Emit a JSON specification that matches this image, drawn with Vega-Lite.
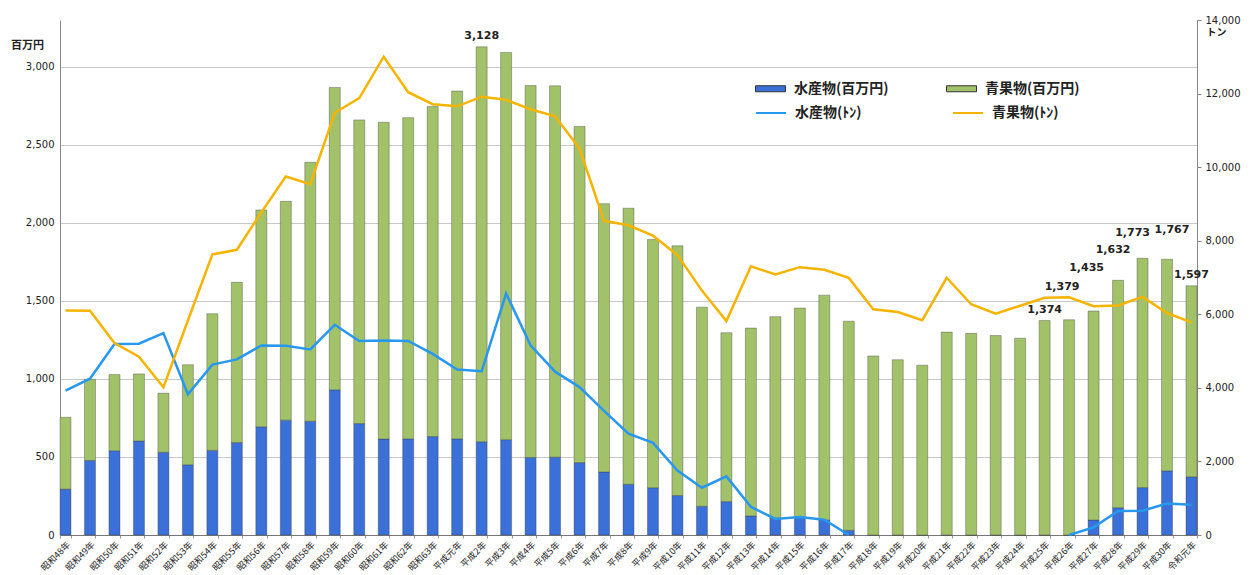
{
  "$schema": "https://vega.github.io/schema/vega-lite/v6.json",
  "width": 1137,
  "height": 515,
  "autosize": "none",
  "padding": {"left": 60, "top": 20, "right": 59, "bottom": 40},
  "background": "white",
  "config": {"view": {"stroke": null}, "font": "Noto Sans CJK JP"},
  "data": {"values": [
    {"年": "昭和48年", "水産物(百万円)": 294, "青果物(百万円)": 460, "水産物(ﾄﾝ)": 3925, "青果物(ﾄﾝ)": 6104, "ラベル": null},
    {"年": "昭和49年", "水産物(百万円)": 478, "青果物(百万円)": 520, "水産物(ﾄﾝ)": 4249, "青果物(ﾄﾝ)": 6094, "ラベル": null},
    {"年": "昭和50年", "水産物(百万円)": 540, "青果物(百万円)": 488, "水産物(ﾄﾝ)": 5192, "青果物(ﾄﾝ)": 5219, "ラベル": null},
    {"年": "昭和51年", "水産物(百万円)": 603, "青果物(百万円)": 429, "水産物(ﾄﾝ)": 5200, "青果物(ﾄﾝ)": 4846, "ラベル": null},
    {"年": "昭和52年", "水産物(百万円)": 530, "青果物(百万円)": 379, "水産物(ﾄﾝ)": 5489, "青果物(ﾄﾝ)": 4018, "ラベル": null},
    {"年": "昭和53年", "水産物(百万円)": 450, "青果物(百万円)": 641, "水産物(ﾄﾝ)": 3824, "青果物(ﾄﾝ)": 5832, "ラベル": null},
    {"年": "昭和54年", "水産物(百万円)": 542, "青果物(百万円)": 876, "水産物(ﾄﾝ)": 4631, "青果物(ﾄﾝ)": 7627, "ラベル": null},
    {"年": "昭和55年", "水産物(百万円)": 593, "青果物(百万円)": 1026, "水産物(ﾄﾝ)": 4775, "青果物(ﾄﾝ)": 7753, "ラベル": null},
    {"年": "昭和56年", "水産物(百万円)": 693, "青果物(百万円)": 1390, "水産物(ﾄﾝ)": 5154, "青果物(ﾄﾝ)": 8769, "ラベル": null},
    {"年": "昭和57年", "水産物(百万円)": 736, "青果物(百万円)": 1402, "水産物(ﾄﾝ)": 5146, "青果物(ﾄﾝ)": 9747, "ラベル": null},
    {"年": "昭和58年", "水産物(百万円)": 729, "青果物(百万円)": 1659, "水産物(ﾄﾝ)": 5045, "青果物(ﾄﾝ)": 9537, "ラベル": null},
    {"年": "昭和59年", "水産物(百万円)": 930, "青果物(百万円)": 1938, "水産物(ﾄﾝ)": 5715, "青果物(ﾄﾝ)": 11479, "ラベル": null},
    {"年": "昭和60年", "水産物(百万円)": 714, "青果物(百万円)": 1946, "水産物(ﾄﾝ)": 5276, "青果物(ﾄﾝ)": 11879, "ラベル": null},
    {"年": "昭和61年", "水産物(百万円)": 615, "青果物(百万円)": 2030, "水産物(ﾄﾝ)": 5285, "青果物(ﾄﾝ)": 13002, "ラベル": null},
    {"年": "昭和62年", "水産物(百万円)": 616, "青果物(百万円)": 2058, "水産物(ﾄﾝ)": 5274, "青果物(ﾄﾝ)": 12037, "ラベル": null},
    {"年": "昭和63年", "水産物(百万円)": 631, "青果物(百万円)": 2115, "水産物(ﾄﾝ)": 4925, "青果物(ﾄﾝ)": 11711, "ラベル": null},
    {"年": "平成元年", "水産物(百万円)": 616, "青果物(百万円)": 2229, "水産物(ﾄﾝ)": 4497, "青果物(ﾄﾝ)": 11653, "ラベル": null},
    {"年": "平成2年", "水産物(百万円)": 598, "青果物(百万円)": 2530, "水産物(ﾄﾝ)": 4451, "青果物(ﾄﾝ)": 11915, "ラベル": 3128},
    {"年": "平成3年", "水産物(百万円)": 611, "青果物(百万円)": 2481, "水産物(ﾄﾝ)": 6565, "青果物(ﾄﾝ)": 11830, "ラベル": null},
    {"年": "平成4年", "水産物(百万円)": 497, "青果物(百万円)": 2383, "水産物(ﾄﾝ)": 5157, "青果物(ﾄﾝ)": 11574, "ラベル": null},
    {"年": "平成5年", "水産物(百万円)": 499, "青果物(百万円)": 2379, "水産物(ﾄﾝ)": 4440, "青果物(ﾄﾝ)": 11384, "ラベル": null},
    {"年": "平成6年", "水産物(百万円)": 464, "青果物(百万円)": 2154, "水産物(ﾄﾝ)": 4021, "青果物(ﾄﾝ)": 10509, "ラベル": null},
    {"年": "平成7年", "水産物(百万円)": 404, "青果物(百万円)": 1719, "水産物(ﾄﾝ)": 3373, "青果物(ﾄﾝ)": 8540, "ラベル": null},
    {"年": "平成8年", "水産物(百万円)": 325, "青果物(百万円)": 1769, "水産物(ﾄﾝ)": 2754, "青果物(ﾄﾝ)": 8420, "ラベル": null},
    {"年": "平成9年", "水産物(百万円)": 303, "青果物(百万円)": 1590, "水産物(ﾄﾝ)": 2506, "青果物(ﾄﾝ)": 8137, "ラベル": null},
    {"年": "平成10年", "水産物(百万円)": 253, "青果物(百万円)": 1600, "水産物(ﾄﾝ)": 1752, "青果物(ﾄﾝ)": 7608, "ラベル": null},
    {"年": "平成11年", "水産物(百万円)": 184, "青果物(百万円)": 1276, "水産物(ﾄﾝ)": 1286, "青果物(ﾄﾝ)": 6644, "ラベル": null},
    {"年": "平成12年", "水産物(百万円)": 214, "青果物(百万円)": 1082, "水産物(ﾄﾝ)": 1594, "青果物(ﾄﾝ)": 5816, "ラベル": null},
    {"年": "平成13年", "水産物(百万円)": 122, "青果物(百万円)": 1204, "水産物(ﾄﾝ)": 765, "青果物(ﾄﾝ)": 7303, "ラベル": null},
    {"年": "平成14年", "水産物(百万円)": 108, "青果物(百万円)": 1291, "水産物(ﾄﾝ)": 436, "青果物(ﾄﾝ)": 7082, "ラベル": null},
    {"年": "平成15年", "水産物(百万円)": 117, "青果物(百万円)": 1337, "水産物(ﾄﾝ)": 490, "青果物(ﾄﾝ)": 7281, "ラベル": null},
    {"年": "平成16年", "水産物(百万円)": 97, "青果物(百万円)": 1440, "水産物(ﾄﾝ)": 414, "青果物(ﾄﾝ)": 7208, "ラベル": null},
    {"年": "平成17年", "水産物(百万円)": 30, "青果物(百万円)": 1340, "水産物(ﾄﾝ)": 0, "青果物(ﾄﾝ)": 6990, "ラベル": null},
    {"年": "平成18年", "水産物(百万円)": 0, "青果物(百万円)": 1147, "水産物(ﾄﾝ)": null, "青果物(ﾄﾝ)": 6134, "ラベル": null},
    {"年": "平成19年", "水産物(百万円)": 0, "青果物(百万円)": 1123, "水産物(ﾄﾝ)": null, "青果物(ﾄﾝ)": 6061, "ラベル": null},
    {"年": "平成20年", "水産物(百万円)": 0, "青果物(百万円)": 1088, "水産物(ﾄﾝ)": null, "青果物(ﾄﾝ)": 5840, "ラベル": null},
    {"年": "平成21年", "水産物(百万円)": 0, "青果物(百万円)": 1300, "水産物(ﾄﾝ)": null, "青果物(ﾄﾝ)": 6993, "ラベル": null},
    {"年": "平成22年", "水産物(百万円)": 0, "青果物(百万円)": 1292, "水産物(ﾄﾝ)": null, "青果物(ﾄﾝ)": 6273, "ラベル": null},
    {"年": "平成23年", "水産物(百万円)": 0, "青果物(百万円)": 1278, "水産物(ﾄﾝ)": null, "青果物(ﾄﾝ)": 6017, "ラベル": null},
    {"年": "平成24年", "水産物(百万円)": 0, "青果物(百万円)": 1261, "水産物(ﾄﾝ)": null, "青果物(ﾄﾝ)": 6233, "ラベル": null},
    {"年": "平成25年", "水産物(百万円)": 0, "青果物(百万円)": 1374, "水産物(ﾄﾝ)": null, "青果物(ﾄﾝ)": 6448, "ラベル": 1374},
    {"年": "平成26年", "水産物(百万円)": 0, "青果物(百万円)": 1379, "水産物(ﾄﾝ)": 0, "青果物(ﾄﾝ)": 6464, "ラベル": 1379},
    {"年": "平成27年", "水産物(百万円)": 96, "青果物(百万円)": 1339, "水産物(ﾄﾝ)": 207, "青果物(ﾄﾝ)": 6219, "ラベル": 1435},
    {"年": "平成28年", "水産物(百万円)": 175, "青果物(百万円)": 1457, "水産物(ﾄﾝ)": 654, "青果物(ﾄﾝ)": 6238, "ラベル": 1632},
    {"年": "平成29年", "水産物(百万円)": 304, "青果物(百万円)": 1469, "水産物(ﾄﾝ)": 659, "青果物(ﾄﾝ)": 6472, "ラベル": 1773},
    {"年": "平成30年", "水産物(百万円)": 411, "青果物(百万円)": 1356, "水産物(ﾄﾝ)": 858, "青果物(ﾄﾝ)": 6034, "ラベル": 1767},
    {"年": "令和元年", "水産物(百万円)": 373, "青果物(百万円)": 1224, "水産物(ﾄﾝ)": 820, "青果物(ﾄﾝ)": 5778, "ラベル": 1597}
  ]},
  "encoding": {
    "x": {
      "field": "年", "type": "ordinal", "sort": null,
      "scale": {"paddingInner": 0.55, "paddingOuter": 0},
      "axis": {
        "title": null, "labelAngle": -45, "labelFont": "Noto Sans CJK JP", "labelFontSize": 9,
        "labelColor": "#222", "labelPadding": 2, "domainColor": "#777", "tickColor": "#999",
        "tickSize": 3, "tickBand": "extent"
      }
    }
  },
  "layer": [
    {
      "layer": [
        {
          "transform": [{"fold": ["水産物(百万円)", "青果物(百万円)"], "as": ["系列", "金額"]}],
          "mark": {"type": "bar", "stroke": "#333", "strokeOpacity": 0.35, "strokeWidth": 1},
          "encoding": {
            "y": {
              "field": "金額", "type": "quantitative", "stack": "zero",
              "scale": {"domain": [0, 3300], "nice": false},
              "axis": {
                "orient": "left", "values": [0, 500, 1000, 1500, 2000, 2500, 3000], "format": ",.0f",
                "labelFont": "DejaVu Sans", "labelFontSize": 10, "labelColor": "#222",
                "grid": true, "gridColor": "#c8c8c8", "domainColor": "#888", "ticks": false, "labelPadding": 6,
                "title": "百万円", "titleAngle": 0, "titleX": -33, "titleY": 25, "titleAlign": "center",
                "titleBaseline": "middle", "titleFont": "Noto Sans CJK JP", "titleFontSize": 11,
                "titleFontWeight": "bold", "titleColor": "#222"
              }
            },
            "fill": {
              "field": "系列", "type": "nominal",
              "scale": {"domain": ["水産物(百万円)", "青果物(百万円)"], "range": ["#3b70d8", "#a2c26a"]},
              "legend": {
                "orient": "none", "legendX": 695, "legendY": 53, "direction": "horizontal", "title": null,
                "symbolType": "M-1,-0.2H1V0.2H-1Z", "symbolSize": 900, "symbolStrokeWidth": 1,
                "labelFont": "Noto Sans CJK JP", "labelFontSize": 14, "labelFontWeight": "bold",
                "labelColor": "#222", "labelOffset": 8, "columnPadding": 55, "labelLimit": 300
              }
            },
            "order": {"field": "系列", "sort": "ascending"}
          }
        },
        {
          "transform": [{"filter": {"field": "年", "oneOf": ["平成2年", "平成25年", "令和元年"]}}],
          "mark": {"type": "text", "dy": -11, "font": "DejaVu Sans", "fontSize": 11, "fontWeight": "bold", "color": "#222"},
          "encoding": {
            "y": {"field": "ラベル", "type": "quantitative"},
            "text": {"field": "ラベル", "type": "quantitative", "format": ",.0f"}
          }
        },
        {
          "transform": [{"filter": {"field": "年", "oneOf": ["平成26年"]}}],
          "mark": {"type": "text", "dy": -33, "dx": -7, "font": "DejaVu Sans", "fontSize": 11, "fontWeight": "bold", "color": "#222"},
          "encoding": {
            "y": {"field": "ラベル", "type": "quantitative"},
            "text": {"field": "ラベル", "type": "quantitative", "format": ",.0f"}
          }
        },
        {
          "transform": [{"filter": {"field": "年", "oneOf": ["平成27年"]}}],
          "mark": {"type": "text", "dy": -43, "dx": -7, "font": "DejaVu Sans", "fontSize": 11, "fontWeight": "bold", "color": "#222"},
          "encoding": {
            "y": {"field": "ラベル", "type": "quantitative"},
            "text": {"field": "ラベル", "type": "quantitative", "format": ",.0f"}
          }
        },
        {
          "transform": [{"filter": {"field": "年", "oneOf": ["平成28年"]}}],
          "mark": {"type": "text", "dy": -30, "dx": -5, "font": "DejaVu Sans", "fontSize": 11, "fontWeight": "bold", "color": "#222"},
          "encoding": {
            "y": {"field": "ラベル", "type": "quantitative"},
            "text": {"field": "ラベル", "type": "quantitative", "format": ",.0f"}
          }
        },
        {
          "transform": [{"filter": {"field": "年", "oneOf": ["平成29年"]}}],
          "mark": {"type": "text", "dy": -25, "dx": -10, "font": "DejaVu Sans", "fontSize": 11, "fontWeight": "bold", "color": "#222"},
          "encoding": {
            "y": {"field": "ラベル", "type": "quantitative"},
            "text": {"field": "ラベル", "type": "quantitative", "format": ",.0f"}
          }
        },
        {
          "transform": [{"filter": {"field": "年", "oneOf": ["平成30年"]}}],
          "mark": {"type": "text", "dy": -29, "dx": 5, "font": "DejaVu Sans", "fontSize": 11, "fontWeight": "bold", "color": "#222"},
          "encoding": {
            "y": {"field": "ラベル", "type": "quantitative"},
            "text": {"field": "ラベル", "type": "quantitative", "format": ",.0f"}
          }
        }
      ]
    },
    {
      "transform": [{"fold": ["水産物(ﾄﾝ)", "青果物(ﾄﾝ)"], "as": ["系列2", "トン数"]}],
      "mark": {"type": "line", "strokeWidth": 2.5, "invalid": "break-paths-show-domains"},
      "encoding": {
        "y": {
          "field": "トン数", "type": "quantitative",
          "scale": {"domain": [0, 14000], "nice": false},
          "axis": {
            "orient": "right", "values": [0, 2000, 4000, 6000, 8000, 10000, 12000, 14000], "format": ",.0f",
            "labelFont": "DejaVu Sans", "labelFontSize": 10, "labelColor": "#222",
            "grid": false, "domainColor": "#888", "tickColor": "#888", "tickSize": 4, "labelPadding": 4,
            "title": "トン", "titleAngle": 0, "titleX": 9, "titleY": 12, "titleAlign": "left",
            "titleBaseline": "middle", "titleFont": "Noto Sans CJK JP", "titleFontSize": 10,
            "titleFontWeight": "bold", "titleColor": "#222"
          }
        },
        "stroke": {
          "field": "系列2", "type": "nominal",
          "scale": {"domain": ["水産物(ﾄﾝ)", "青果物(ﾄﾝ)"], "range": ["#2897ee", "#f5b400"]},
          "legend": {
            "orient": "none", "legendX": 695, "legendY": 77, "direction": "horizontal", "title": null,
            "symbolType": "stroke", "symbolSize": 900, "symbolStrokeWidth": 2,
            "labelFont": "Noto Sans CJK JP", "labelFontSize": 14, "labelFontWeight": "bold",
            "labelColor": "#222", "labelOffset": 8, "columnPadding": 87, "labelLimit": 300
          }
        }
      }
    }
  ],
  "resolve": {"scale": {"y": "independent"}, "axis": {"y": "independent"}}
}
